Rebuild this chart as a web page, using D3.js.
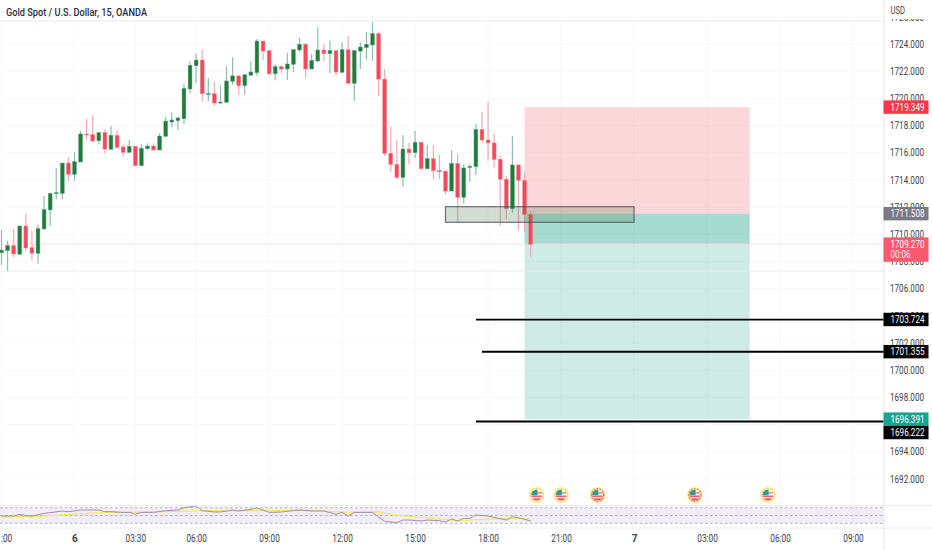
<!DOCTYPE html>
<html>
<head>
<meta charset="utf-8">
<script src="https://cdn.jsdelivr.net/npm/d3@7"></script>
<style>
  html, body { margin: 0; padding: 0; background: #fff; }
  svg { display: block; }
  text { font-family: Roboto, sans-serif; }
</style>
</head>
<body>
<div id="chart"></div>
<script>
// data
const opens = [1708.64,1708.79,1709.16,1708.53,1710.61,1709.01,1708.60,1710.39,1711.79,1712.99,1713.01,1715.24,1714.41,1715.32,1717.38,1717.33,1716.88,1717.50,1716.25,1717.28,1716.42,1716.03,1716.47,1715.05,1716.30,1716.49,1716.20,1717.21,1718.26,1718.36,1718.50,1720.69,1722.40,1722.82,1720.30,1720.34,1719.66,1719.71,1721.26,1721.65,1720.93,1721.70,1721.89,1724.22,1723.51,1721.81,1722.33,1722.16,1722.51,1723.56,1723.98,1722.16,1722.75,1723.56,1723.29,1723.51,1721.92,1723.58,1721.11,1723.48,1723.73,1723.93,1724.76,1721.42,1715.96,1715.15,1714.19,1716.27,1716.00,1716.77,1714.82,1715.56,1714.71,1714.65,1713.18,1715.22,1712.72,1714.90,1714.97,1717.72,1716.94,1716.72,1715.52,1714.05,1711.88,1715.10,1713.97,1711.47]
const highs = [1710.31,1709.53,1710.39,1710.61,1711.47,1710.24,1710.68,1712.82,1713.06,1714.85,1715.24,1715.66,1716.03,1717.60,1718.48,1718.78,1717.55,1717.72,1717.94,1717.65,1716.57,1716.91,1716.47,1716.62,1716.69,1716.69,1717.43,1718.63,1718.97,1718.61,1721.06,1722.75,1723.29,1723.61,1721.48,1721.20,1720.96,1722.38,1723.02,1721.72,1721.74,1722.73,1724.37,1724.22,1723.51,1722.51,1722.45,1723.36,1723.61,1724.44,1724.05,1723.26,1725.23,1723.98,1724.24,1723.51,1724.13,1724.59,1723.56,1724.13,1724.88,1725.62,1724.93,1722.18,1717.92,1716.94,1717.30,1716.74,1717.60,1716.77,1716.57,1716.55,1715.85,1714.65,1716.18,1715.91,1715.17,1715.17,1718.09,1719.00,1719.73,1717.38,1715.76,1714.29,1717.23,1715.10,1714.53,1711.73]
const lows = [1707.74,1707.25,1708.31,1708.53,1708.79,1708.11,1707.79,1710.37,1710.63,1712.60,1712.60,1713.90,1713.94,1715.32,1716.99,1716.79,1716.64,1715.93,1716.25,1716.33,1715.71,1716.00,1715.00,1715.05,1716.22,1716.15,1716.20,1717.16,1717.87,1717.67,1718.11,1720.34,1721.11,1719.75,1719.81,1719.46,1719.56,1719.71,1721.01,1720.27,1720.27,1721.70,1721.65,1722.80,1721.72,1721.33,1721.84,1721.37,1721.94,1723.43,1721.50,1722.16,1722.68,1722.75,1721.84,1721.67,1721.84,1721.11,1719.83,1722.16,1722.87,1722.77,1720.20,1715.78,1714.60,1714.05,1713.50,1715.15,1715.61,1714.78,1714.78,1714.05,1714.05,1712.96,1713.18,1710.85,1712.25,1713.85,1714.36,1716.74,1715.41,1714.93,1710.61,1711.10,1711.59,1710.31,1710.19,1708.35]
const closes = [1708.84,1709.16,1708.55,1710.61,1708.99,1708.60,1710.41,1711.81,1713.01,1713.06,1715.24,1714.41,1715.34,1717.38,1717.33,1716.86,1717.47,1716.27,1717.28,1716.40,1716.03,1716.47,1715.05,1716.33,1716.49,1716.20,1717.23,1718.33,1718.41,1718.56,1720.74,1722.43,1722.82,1720.34,1720.37,1719.66,1719.73,1721.28,1721.65,1720.93,1721.74,1721.94,1724.22,1723.48,1721.81,1722.33,1722.16,1722.53,1723.58,1723.98,1722.16,1722.80,1723.56,1723.29,1723.51,1721.94,1723.58,1721.11,1723.51,1723.78,1723.98,1724.76,1721.42,1715.96,1715.15,1714.19,1716.27,1716.00,1716.77,1714.82,1715.56,1714.68,1714.60,1713.18,1715.22,1712.72,1714.88,1715.00,1717.72,1716.94,1716.72,1715.52,1714.05,1711.88,1715.10,1713.97,1711.47,1709.27]

const priceTicks = [1692,1694,1696,1698,1700,1702,1704,1706,1708,1710,1712,1714,1716,1718,1720,1722,1724,1726]
const timeBars = [0,12,22,32,44,56,68,80,92,104,116,128,140]
const timeLabels = ['21:00','6','03:30','06:00','09:00','12:00','15:00','18:00','21:00','7','03:00','06:00','09:00']
const dayLabels = ['6','7']

const rsiBars = [0,2,3,4,5,7,8,10,11,13,16,17,18,20,21,22,23,25,27,29,30,32,33,35,36,38,39,41,42,43,44,46,48,49,51,53,55,56,57,58,60,61,63,65,66,67,69,70,72,73,74,75,76,77,78,80,83,84,85,87]
const rsiValues = [48.7,48.7,53,49.5,48.7,55.5,57.2,61.5,59.8,64,64,59.8,59.8,58,58,53.8,58,58,62.4,64,70,74.3,62.4,59,59,64,61.5,65.8,69.2,64,58,59,62.4,64,61.5,61.5,53,58,48.7,58,58,58,35,31.6,38.4,38.4,35.9,38.4,36.7,33.3,41,35.9,42.7,42.7,51.3,48.7,38.4,47,44.4,35.9]
const maBars = [0,5,8,11,16,22,27,33,38,44,49,53,55,58,62,63,66,72,75,79,84,87]
const maValues = [47,47,49.5,53,57,59,60,62.4,62.4,62.4,64,61.5,60,58,60,55.5,48.7,41,36.7,40,42.7,41]
const rsiBands = [30,50,70]

const stopPrice = 1719.349
const entryPrice = 1711.508
const lastPrice = 1709.27
const targetPrice = 1696.391
const positionBars = [86,123]
const zoneBars = [73,104]
const zonePrices = [1710.88,1712.03]
const levelPrices = [1703.724,1701.355,1696.222]
const levelStartBars = [78,79,78]
const eventBars = [88,92,98,114,126]
const eventRings = ['#ffe27a','#ffe27a','red','red','#ffe27a']

// size
const width = 932
const height = 550
const paneRight = 884
const headerY = 21
const paneBottom = 271
const rsiTop = 505.5
const axisY = 528

// scale
const x = d3.scaleLinear().domain([0, 140]).range([1.5, 853])
const y = d3.scaleLinear().domain([1692, 1724]).range([478.9, 44])
const rsiY = d3.scaleLinear().domain([30, 70]).range([523.3, 507.7])

const svg = d3
  .select('#chart')
  .append('svg')
  .attr('width', width)
  .attr('height', height)

// grid
svg
  .selectAll('line.vgrid')
  .data(timeBars)
  .enter()
  .append('line')
  .attr('class', 'vgrid')
  .attr('x1', d => x(d))
  .attr('x2', d => x(d))
  .attr('y1', headerY)
  .attr('y2', axisY)
  .attr('stroke', '#f8f8f9')

svg
  .selectAll('line.hgrid')
  .data(priceTicks)
  .enter()
  .append('line')
  .attr('class', 'hgrid')
  .attr('x1', 0)
  .attr('x2', paneRight)
  .attr('y1', d => y(d))
  .attr('y2', d => y(d))
  .attr('stroke', '#f8f8f9')

// position tool
const boxX = x(positionBars[0])
const boxW = x(positionBars[1]) - boxX
svg
  .append('rect')
  .attr('x', boxX)
  .attr('y', y(stopPrice))
  .attr('width', boxW)
  .attr('height', y(entryPrice) - y(stopPrice))
  .attr('fill', 'rgba(242,54,69,0.2)')
svg
  .append('rect')
  .attr('x', boxX)
  .attr('y', y(entryPrice))
  .attr('width', boxW)
  .attr('height', y(targetPrice) - y(entryPrice))
  .attr('fill', 'rgba(8,153,129,0.2)')
// part of the target already reached
svg
  .append('rect')
  .attr('x', boxX)
  .attr('y', y(entryPrice))
  .attr('width', boxW)
  .attr('height', y(lastPrice) - y(entryPrice))
  .attr('fill', 'rgba(8,153,129,0.2)')

// last price line
svg
  .append('line')
  .attr('x1', 0)
  .attr('x2', paneRight)
  .attr('y1', y(lastPrice))
  .attr('y2', y(lastPrice))
  .attr('stroke', '#fbdcdf')
  .attr('stroke-width', 1)

// candles
const isUp = i => closes[i] >= opens[i]
const candles = svg
  .selectAll('g.candle')
  .data(d3.range(opens.length))
  .enter()
  .append('g')
  .attr('class', 'candle')

candles
  .append('line')
  .attr('x1', i => x(i))
  .attr('x2', i => x(i))
  .attr('y1', i => y(highs[i]))
  .attr('y2', i => y(lows[i]))
  .attr('stroke', i => (isUp(i) ? '#8dbdb2' : '#f3a9b0'))
  .attr('stroke-width', 1.2)

candles
  .append('rect')
  .attr('x', i => x(i) - 1.9)
  .attr('width', 3.8)
  .attr('y', i => y(Math.max(opens[i], closes[i])))
  .attr('height', i => Math.max(1, Math.abs(y(opens[i]) - y(closes[i]))))
  .attr('fill', i => (isUp(i) ? '#1f7d36' : '#f7475a'))
  .attr('stroke', i => (isUp(i) ? '#5f9f86' : '#f6808c'))
  .attr('stroke-width', 0.5)

// zone rectangle
svg
  .append('rect')
  .attr('x', x(zoneBars[0]))
  .attr('y', y(zonePrices[1]))
  .attr('width', x(zoneBars[1]) - x(zoneBars[0]))
  .attr('height', y(zonePrices[0]) - y(zonePrices[1]))
  .attr('fill', 'rgba(76,125,80,0.25)')
  .attr('stroke', '#4f4f58')
  .attr('stroke-opacity', 0.8)
  .attr('stroke-width', 1.2)

// level lines
svg
  .selectAll('line.level')
  .data(levelPrices)
  .enter()
  .append('line')
  .attr('class', 'level')
  .attr('x1', (d, i) => x(levelStartBars[i]))
  .attr('x2', paneRight)
  .attr('y1', d => y(d))
  .attr('y2', d => y(d))
  .attr('stroke', '#000')
  .attr('stroke-width', 1.8)

// rsi pane
svg
  .append('rect')
  .attr('x', 0)
  .attr('y', rsiY(70))
  .attr('width', paneRight)
  .attr('height', rsiY(30) - rsiY(70))
  .attr('fill', 'rgba(126,87,194,0.1)')

svg
  .selectAll('line.band')
  .data(rsiBands)
  .enter()
  .append('line')
  .attr('class', 'band')
  .attr('x1', 0)
  .attr('x2', paneRight)
  .attr('y1', d => rsiY(d))
  .attr('y2', d => rsiY(d))
  .attr('stroke', '#a8a6b0')
  .attr('stroke-dasharray', '2.5 2.5')
  .attr('stroke-width', 0.9)

const rsiLine = (bars, values) =>
  d3
    .line()
    .x((d, i) => x(bars[i]))
    .y(d => rsiY(d))(values)

svg
  .append('path')
  .attr('d', rsiLine(maBars, maValues))
  .attr('fill', 'none')
  .attr('stroke', '#fde74c')
  .attr('stroke-width', 1.2)

svg
  .append('path')
  .attr('d', rsiLine(rsiBars, rsiValues))
  .attr('fill', 'none')
  .attr('stroke', '#9a8db5')
  .attr('stroke-width', 1)

// event flags
svg
  .append('clipPath')
  .attr('id', 'flag-clip')
  .append('circle')
  .attr('r', 5.5)

const flags = svg
  .selectAll('g.flag')
  .data(eventBars)
  .enter()
  .append('g')
  .attr('class', 'flag')
  .attr('transform', d => `translate(${x(d)}, 495)`)

flags
  .append('circle')
  .attr('r', 6.8)
  .attr('fill', '#fff')
  .attr('stroke', '#ffe27a')
  .attr('stroke-width', 1.7)

flags
  .filter((d, i) => eventRings[i] === 'red')
  .append('circle')
  .attr('r', 6.1)
  .attr('fill', 'none')
  .attr('stroke', '#f4473f')
  .attr('stroke-width', 1.1)
  .attr('stroke-dasharray', '1.5 1.5')

const flagBody = flags.append('g').attr('clip-path', 'url(#flag-clip)')
flagBody.append('rect').attr('x', -6).attr('y', -6).attr('width', 12).attr('height', 12).attr('fill', '#fff')
flagBody.append('rect').attr('x', -6).attr('y', 0.5).attr('width', 12).attr('height', 1.6).attr('fill', '#f4606a')
flagBody.append('rect').attr('x', -6).attr('y', 3.4).attr('width', 12).attr('height', 2.4).attr('fill', '#f4475a')
flagBody.append('rect').attr('x', 0.8).attr('y', -3).attr('width', 6).attr('height', 1.6).attr('fill', '#f4808a')
flagBody.append('rect').attr('x', -6).attr('y', -6).attr('width', 6.8).attr('height', 6.2).attr('fill', '#2f9c8e')

// frame
const frameLines = [
  [0, headerY, paneRight, headerY],
  [0, paneBottom, paneRight, paneBottom],
  [0, rsiTop, width, rsiTop],
  [0, axisY, width, axisY],
  [paneRight, 0, paneRight, height],
]
svg
  .selectAll('line.frame')
  .data(frameLines)
  .enter()
  .append('line')
  .attr('class', 'frame')
  .attr('x1', d => d[0])
  .attr('y1', d => d[1])
  .attr('x2', d => d[2])
  .attr('y2', d => d[3])
  .attr('stroke', '#ececee')
  .attr('stroke-width', 1.2)

// narrow text, the reference face is tighter than anything installed
const squeeze = (sel, w) =>
  sel.attr('textLength', w).attr('lengthAdjust', 'spacingAndGlyphs')

// price axis
const priceAxis = svg
  .append('g')
  .attr('transform', `translate(${paneRight}, 0)`)
  .call(
    d3
      .axisRight(y)
      .tickValues(priceTicks)
      .tickFormat(d3.format('.3f'))
      .tickSize(0)
      .tickPadding(6),
  )
priceAxis.select('.domain').remove()
priceAxis
  .selectAll('text')
  .attr('font-size', 10)
  .attr('fill', '#3c3f48')
  .call(squeeze, 34)

svg.append('rect').attr('x', paneRight + 1).attr('y', 0).attr('width', 48).attr('height', 19).attr('fill', '#fff')

svg
  .append('text')
  .attr('x', 890.5)
  .attr('y', 13.5)
  .attr('font-size', 10)
  .attr('fill', '#3c3f48')
  .call(squeeze, 14.5)
  .text('USD')

// price tags
const tagFormat = d3.format('.3f')
const tags = [
  { price: stopPrice, bg: '#f5384b' },
  { price: entryPrice, bg: '#787b86' },
  { price: lastPrice, bg: '#fb5a6c', sub: '00:06' },
  { price: levelPrices[0], bg: '#000' },
  { price: levelPrices[1], bg: '#000' },
  { price: targetPrice, bg: '#1ba392' },
  { price: levelPrices[2], bg: '#000' },
]
let tagBottom = 0
tags.forEach(t => {
  const h = t.sub ? 24.4 : 13.4
  const tagTop = Math.max(y(t.price) - 6.8, tagBottom)
  tagBottom = tagTop + h
  svg
    .append('rect')
    .attr('x', 883.5)
    .attr('y', tagTop)
    .attr('width', 45)
    .attr('height', h)
    .attr('fill', t.bg)
  svg
    .append('text')
    .attr('x', 890.5)
    .attr('y', tagTop + 10.2)
    .attr('font-size', 10)
    .attr('fill', '#fff')
    .call(squeeze, 34)
    .text(tagFormat(t.price))
  if (t.sub) {
    svg
      .append('text')
      .attr('x', 890.5)
      .attr('y', tagTop + 21)
      .attr('font-size', 10)
      .attr('fill', '#fff')
      .attr('fill-opacity', 0.9)
      .call(squeeze, 20)
      .text(t.sub)
  }
})

// time axis
const timeAxis = svg
  .append('g')
  .attr('transform', `translate(0, ${axisY})`)
  .call(
    d3
      .axisBottom(x)
      .tickValues(timeBars)
      .tickFormat((d, i) => timeLabels[i])
      .tickSize(0)
      .tickPadding(7),
  )
timeAxis.select('.domain').remove()
timeAxis
  .selectAll('text')
  .attr('font-size', 10)
  .attr('fill', '#3c3f48')
  .attr('font-weight', d => (dayLabels.includes(timeLabels[timeBars.indexOf(d)]) ? 'bold' : 'normal'))
  .filter(d => !dayLabels.includes(timeLabels[timeBars.indexOf(d)]))
  .call(squeeze, 20.5)

// title
svg
  .append('text')
  .attr('x', 6)
  .attr('y', 16)
  .attr('font-size', 10.5)
  .attr('font-weight', 500)
  .attr('fill', '#2a2e39')
  .call(squeeze, 141)
  .text('Gold Spot / U.S. Dollar, 15, OANDA')
</script>
</body>
</html>
